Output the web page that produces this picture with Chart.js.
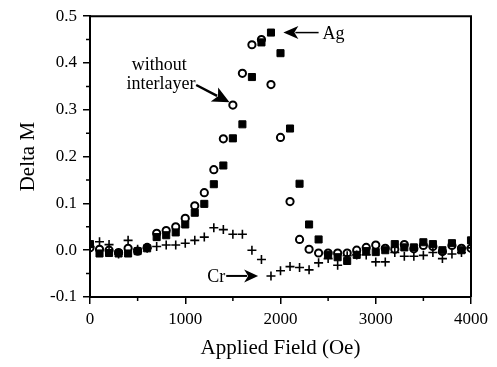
<!DOCTYPE html>
<html>
<head>
<meta charset="utf-8">
<script src="https://cdn.jsdelivr.net/npm/chart.js@4.4.1/dist/chart.umd.min.js"></script>
<style>
  html, body { margin: 0; padding: 0; background: #fff; }
  canvas { display: block; }
</style>
</head>
<body>
<canvas id="deltaChart" width="497" height="367"></canvas>
<script>
// applied field, Oe (every 100 Oe)
const fieldOe = [
  0, 100, 200, 300, 400, 500, 600, 700, 800, 900,
  1000, 1100, 1200, 1300, 1400, 1500, 1600, 1700, 1800, 1900,
  2000, 2100, 2200, 2300, 2400, 2500, 2600, 2700, 2800, 2900,
  3000, 3100, 3200, 3300, 3400, 3500, 3600, 3700, 3800, 3900, 4000
];

// Ag interlayer (filled squares)
const agDelta = [
  0.013, -0.007, -0.006, -0.007, -0.007, -0.002, 0.004, 0.028, 0.032, 0.038,
  0.055, 0.080, 0.099, 0.141, 0.181, 0.239, 0.269, 0.370, 0.444, 0.465,
  0.421, 0.260, 0.142, 0.055, 0.023, -0.010, -0.015, -0.023, -0.010, -0.002,
  -0.004, 0.000, 0.013, 0.006, 0.006, 0.017, 0.013, 0.000, 0.015, 0.000, 0.021
];

// without interlayer (open circles)
const noLayerDelta = [
  0.005, 0.002, 0.000, -0.005, 0.004, -0.002, 0.006, 0.036, 0.042, 0.050,
  0.068, 0.095, 0.123, 0.172, 0.238, 0.310, 0.378, 0.439, 0.450, 0.354,
  0.241, 0.104, 0.023, 0.002, -0.006, -0.006, -0.006, -0.006, 0.000, 0.006,
  0.011, 0.004, 0.002, 0.012, 0.003, 0.010, 0.008, -0.003, 0.010, 0.004, 0.004
];

// Cr interlayer (plus signs)
const crDelta = [
  0.008, 0.018, 0.012, -0.008, 0.021, 0.002, 0.004, 0.008, 0.011, 0.011,
  0.015, 0.021, 0.028, 0.048, 0.044, 0.034, 0.034, 0.000, -0.020, -0.055,
  -0.044, -0.035, -0.037, -0.042, -0.027, -0.018, -0.032, -0.012, -0.010, -0.010,
  -0.025, -0.025, -0.005, -0.013, -0.013, -0.011, -0.005, -0.018, -0.008, -0.005, 0.005
];

const FONT = "'Liberation Serif', 'Times New Roman', serif";

function toPoints(values) {
  return fieldOe.map((x, i) => ({ x, y: values[i] }));
}

function drawArrowHead(ctx, tipX, tipY, angle, len, halfW, notch) {
  const dx = Math.cos(angle), dy = Math.sin(angle);
  const px = -dy, py = dx;
  ctx.beginPath();
  ctx.moveTo(tipX, tipY);
  ctx.lineTo(tipX - len * dx + halfW * px, tipY - len * dy + halfW * py);
  ctx.lineTo(tipX - (len - notch) * dx, tipY - (len - notch) * dy);
  ctx.lineTo(tipX - len * dx - halfW * px, tipY - len * dy - halfW * py);
  ctx.closePath();
  ctx.fill();
}

function drawArrow(ctx, x0, y0, x1, y1, lineW, len, halfW) {
  const angle = Math.atan2(y1 - y0, x1 - x0);
  ctx.lineWidth = lineW;
  ctx.beginPath();
  ctx.moveTo(x0, y0);
  ctx.lineTo(x1 - (len - 3) * Math.cos(angle), y1 - (len - 3) * Math.sin(angle));
  ctx.stroke();
  drawArrowHead(ctx, x1, y1, angle, len, halfW, 4);
}

const framePlugin = {
  id: "frame",
  afterDraw(chart) {
    const { ctx, chartArea: a, scales } = chart;
    ctx.save();
    ctx.strokeStyle = "#000";
    ctx.lineWidth = 2;
    ctx.beginPath();
    ctx.moveTo(a.left, a.top);
    ctx.lineTo(a.right, a.top);
    ctx.lineTo(a.right, a.bottom);
    ctx.stroke();

    // minor ticks, outward
    ctx.lineWidth = 1.5;
    ctx.beginPath();
    for (let v = 500; v < 4000; v += 1000) {
      const px = scales.x.getPixelForValue(v);
      ctx.moveTo(px, a.bottom);
      ctx.lineTo(px, a.bottom + 4);
    }
    for (let k = 0; k < 6; k++) {
      const py = scales.y.getPixelForValue(-0.05 + k * 0.1);
      ctx.moveTo(a.left, py);
      ctx.lineTo(a.left - 4, py);
    }
    ctx.stroke();
    ctx.restore();
  }
};

const labelPlugin = {
  id: "labels",
  afterDraw(chart) {
    const { ctx, scales } = chart;
    const X = v => scales.x.getPixelForValue(v);
    const Y = v => scales.y.getPixelForValue(v);
    ctx.save();
    ctx.fillStyle = "#000";
    ctx.strokeStyle = "#000";
    ctx.font = `18px ${FONT}`;
    ctx.textBaseline = "middle";

    // Ag
    drawArrow(ctx, X(2400), Y(0.465), X(2030), Y(0.465), 1.5, 15, 6.5);
    ctx.textAlign = "left";
    ctx.fillText("Ag", X(2440), Y(0.462));

    // without interlayer
    ctx.textAlign = "center";
    ctx.fillText("without", X(728), Y(0.395));
    ctx.fillText("interlayer", X(745), Y(0.355));
    drawArrow(ctx, X(1115), Y(0.353), X(1465), Y(0.316), 2.5, 17, 8);

    // Cr
    ctx.textAlign = "right";
    ctx.fillText("Cr", X(1420), Y(-0.057));
    drawArrow(ctx, X(1430), Y(-0.055), X(1765), Y(-0.055), 2, 14, 6.5);
    ctx.restore();
  }
};

const canvas = document.getElementById("deltaChart");

new Chart(canvas, {
  type: "scatter",
  data: {
    datasets: [
      {
        label: "without interlayer",
        data: toPoints(noLayerDelta),
        pointStyle: "circle",
        pointRadius: 3.6,
        borderColor: "#000",
        backgroundColor: "rgba(0,0,0,0)",
        borderWidth: 2
      },
      {
        label: "Ag",
        data: toPoints(agDelta),
        pointStyle: "rect",
        pointRadius: 5,
        borderColor: "#000",
        backgroundColor: "#000",
        borderWidth: 1
      },
      {
        label: "Cr",
        data: toPoints(crDelta),
        pointStyle: "cross",
        pointRadius: 4.5,
        borderColor: "#000",
        borderWidth: 1.6
      }
    ]
  },
  options: {
    responsive: false,
    animation: false,
    layout: { padding: { top: 13, right: 26, left: 0, bottom: 0 } },
    plugins: {
      legend: { display: false },
      tooltip: { enabled: false }
    },
    scales: {
      x: {
        type: "linear",
        min: 0,
        max: 4000,
        ticks: {
          stepSize: 1000,
          color: "#000",
          font: { family: FONT, size: 17 },
          padding: 5,
          maxRotation: 0,
          callback: v => String(Math.round(v))
        },
        grid: { drawOnChartArea: false, tickLength: 7, color: "#000", lineWidth: 1.5 },
        border: { color: "#000", width: 2 },
        title: {
          display: true,
          text: "Applied Field (Oe)",
          color: "#000",
          font: { family: FONT, size: 21 },
          padding: { top: 0, bottom: 6 }
        },
        afterFit(scale) { scale.height = 70; }
      },
      y: {
        min: -0.1,
        max: 0.5,
        ticks: {
          stepSize: 0.1,
          color: "#000",
          font: { family: FONT, size: 17 },
          padding: 6,
          callback: v => (Math.abs(v) < 1e-9 ? 0 : v).toFixed(1)
        },
        grid: { drawOnChartArea: false, tickLength: 7, color: "#000", lineWidth: 1.5 },
        border: { color: "#000", width: 2 },
        title: {
          display: true,
          text: "Delta M",
          color: "#000",
          font: { family: FONT, size: 21 },
          padding: { top: 16, bottom: 0 }
        },
        afterFit(scale) { scale.width = 90; }
      }
    }
  },
  plugins: [framePlugin, labelPlugin]
});
</script>
</body>
</html>
